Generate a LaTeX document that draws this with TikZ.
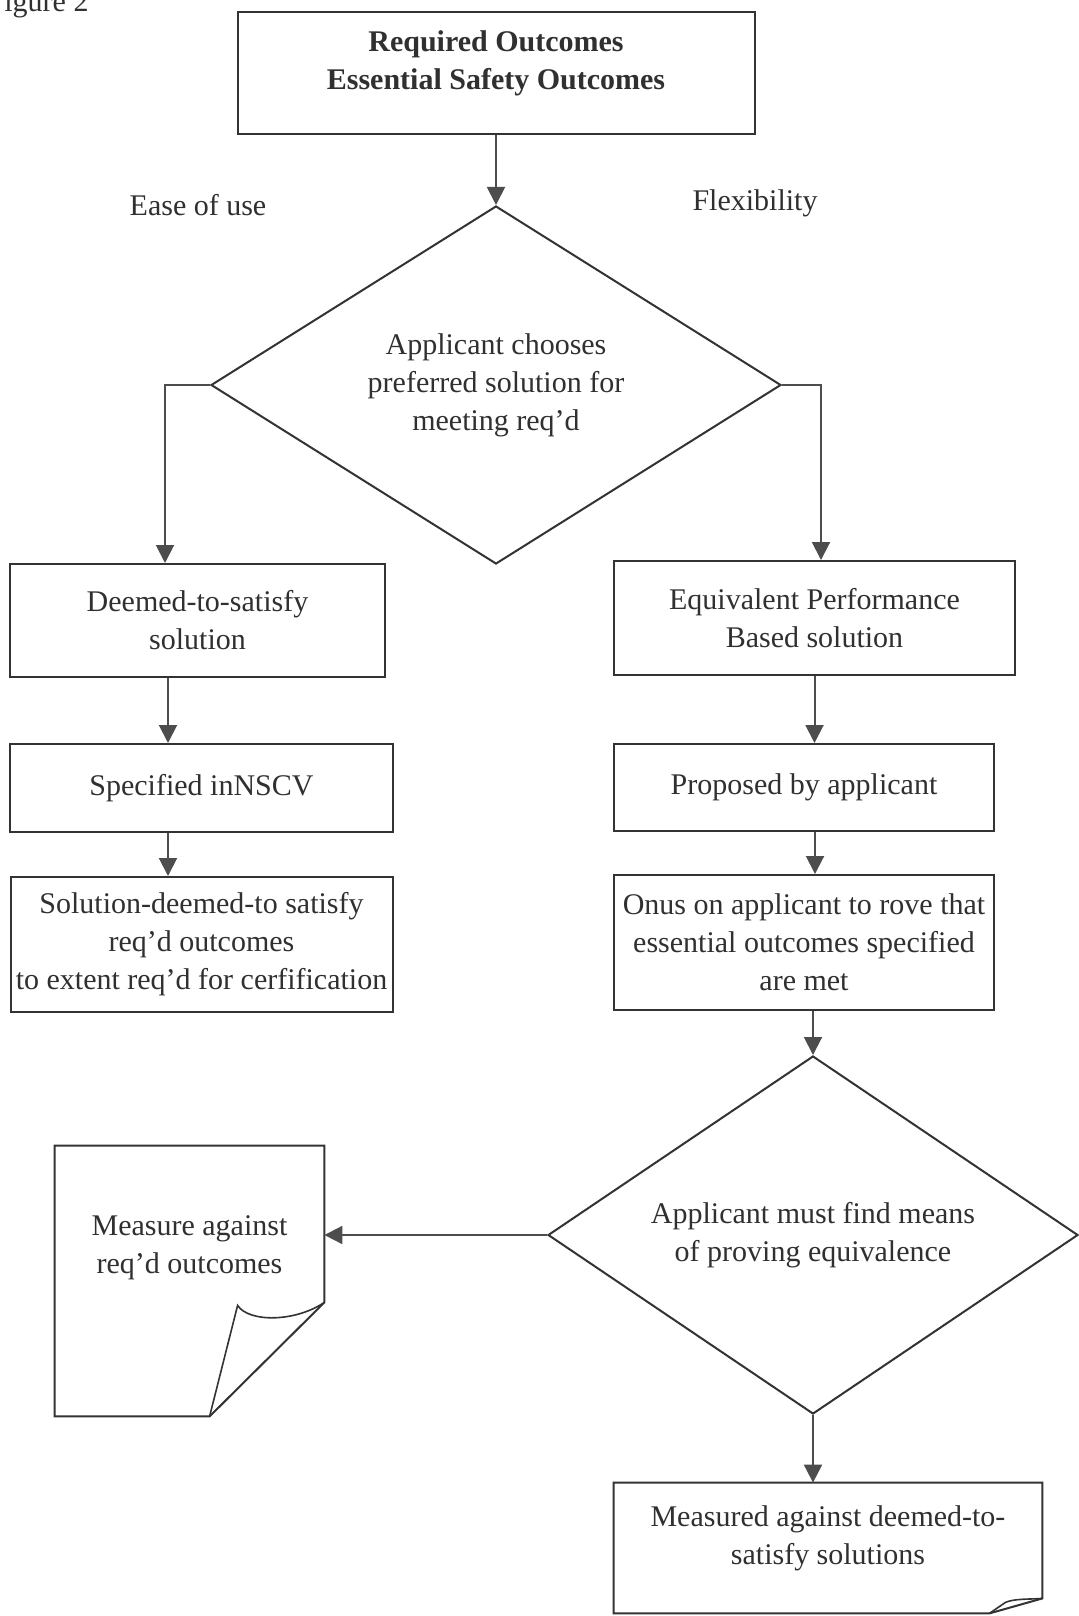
\documentclass[tikz,border=0pt]{standalone}
\usepackage{fontspec}
\setmainfont{Liberation Serif}
\usepackage{xcolor}
\usepackage{tikz}
\usetikzlibrary{shapes.geometric,arrows.meta,positioning}

\definecolor{linegray}{HTML}{333333}
\definecolor{arrowgray}{HTML}{4D4D4D}
\definecolor{textgray}{HTML}{303030}

\tikzset{
  box/.style={draw=linegray, line width=1pt, rectangle, align=center, inner sep=2pt},
  decide/.style={draw=linegray, line width=1pt, diamond, shape aspect=1.5, align=center, inner sep=0pt},
  sheet/.style={rectangle, inner sep=0pt},
  arr/.style={draw=arrowgray, line width=1pt, -{Triangle[width=9pt,length=9pt]}}
}

\begin{document}
\begin{tikzpicture}[font=\fontsize{15}{19}\selectfont, text=textgray]
    \clip (0pt,0pt) rectangle (539.5pt,-808pt);
    \fill[white] (0pt,0pt) rectangle (539.5pt,-808pt);

    % Nodes
    \node[anchor=base west, inner sep=0pt] (fig) at (2pt,-6pt) {igure 2};
    \node[box, minimum width=258.5pt, minimum height=61pt,
          label={[name=toptext, yshift=5pt, align=center, font=\bfseries\fontsize{15}{19}\selectfont]center:Required Outcomes\\Essential Safety Outcomes}] (top) at (248pt,-36.5pt) {};
    \node[decide, below of=top, node distance=156pt, minimum width=285pt, minimum height=179pt] (choose) {Applicant chooses\\preferred solution for\\meeting req'd};
    \node (ease) at (99pt,-102.5pt) {Ease of use};
    \node (flex) at (377.5pt,-101.5pt) {Flexibility};

    \node[box, below of=choose, node distance=117.75pt, xshift=-149.25pt, minimum width=187.5pt, minimum height=56.5pt] (dts) {Deemed-to-satisfy\\solution};
    \node[box, below of=dts, node distance=83.75pt, xshift=2pt, minimum width=191.5pt, minimum height=44pt] (spec) {Specified inNSCV};
    \node[box, below of=spec, node distance=78.25pt, minimum width=191pt, minimum height=67.5pt] (sol) {Solution-deemed-to satisfy\\req'd outcomes\\to extent req'd for cerfification};

    \node[box, below of=choose, node distance=116.5pt, xshift=159.25pt, minimum width=200.5pt, minimum height=57pt] (ebp) {Equivalent Performance\\Based solution};
    \node[box, below of=ebp, node distance=84.75pt, xshift=-5.25pt, minimum width=190pt, minimum height=43.5pt] (prop) {Proposed by applicant};
    \node[box, below of=prop, node distance=77.5pt, minimum width=190pt, minimum height=67.5pt] (onus) {Onus on applicant to rove that\\essential outcomes specified\\are met};
    \node[decide, below of=onus, node distance=146.25pt, xshift=4.5pt, minimum width=265pt, minimum height=179pt] (means) {Applicant must find means\\of proving equivalence};

    \node[sheet, below of=means, node distance=23pt, xshift=-311.75pt, minimum width=134.5pt, minimum height=135pt,
          label={[name=notetext, yshift=16.75pt, align=center]center:Measure against\\req'd outcomes}] (note) {};
    \node[sheet, below of=means, node distance=156.5pt, xshift=7.5pt, minimum width=214pt, minimum height=65pt,
          label={[name=meastext, yshift=5pt, align=center]center:Measured against deemed-to-\\satisfy solutions}] (meas) {};

    % Folded sheets
    \draw[linegray, line width=1pt] (note.north west) -- (note.north east) -- ([yshift=57pt]note.south east)
        -- ([xshift=77.5pt]note.south west) -- (note.south west) -- cycle;
    \draw[linegray, line width=0.8pt] ([xshift=77.5pt]note.south west) -- ([xshift=91.5pt,yshift=55.5pt]note.south west)
        .. controls ([xshift=97pt,yshift=47pt]note.south west) and ([xshift=120pt,yshift=47pt]note.south west) .. ([yshift=57pt]note.south east);
    \draw[linegray, line width=1pt] (meas.north west) -- (meas.north east) -- ([yshift=7.5pt]meas.south east)
        -- ([xshift=-26.5pt]meas.south east) -- (meas.south west) -- cycle;
    \draw[linegray, line width=0.8pt] ([xshift=-26.5pt]meas.south east) -- ([xshift=-18.5pt,yshift=5.5pt]meas.south east)
        .. controls ([xshift=-14pt,yshift=7.5pt]meas.south east) and ([xshift=-6pt,yshift=7pt]meas.south east) .. ([yshift=7.5pt]meas.south east);

    % Arrows
    \draw[arr] (top) -- (choose);
    \draw[arr] (choose.west) -| ([xshift=-16.25pt]dts.north);
    \draw[arr] (choose.east) -| ([xshift=3.25pt]ebp.north);
    \draw[arr] ([xshift=-14.75pt]dts.south) -- ([xshift=-14.75pt]dts.south |- spec.north);
    \draw[arr] ([xshift=-16.75pt]spec.south) -- ([xshift=-16.75pt]spec.south |- sol.north);
    \draw[arr] (ebp.south) -- (ebp.south |- prop.north);
    \draw[arr] ([xshift=5.5pt]prop.south) -- ([xshift=5.5pt]prop.south |- onus.north);
    \draw[arr] (onus.south -| means.north) -- (means.north);
    \draw[arr] (means.south) -- (means.south |- meas.north);
    \draw[arr] (means.west) -- (means.west -| note.east);
\end{tikzpicture}
\end{document}
